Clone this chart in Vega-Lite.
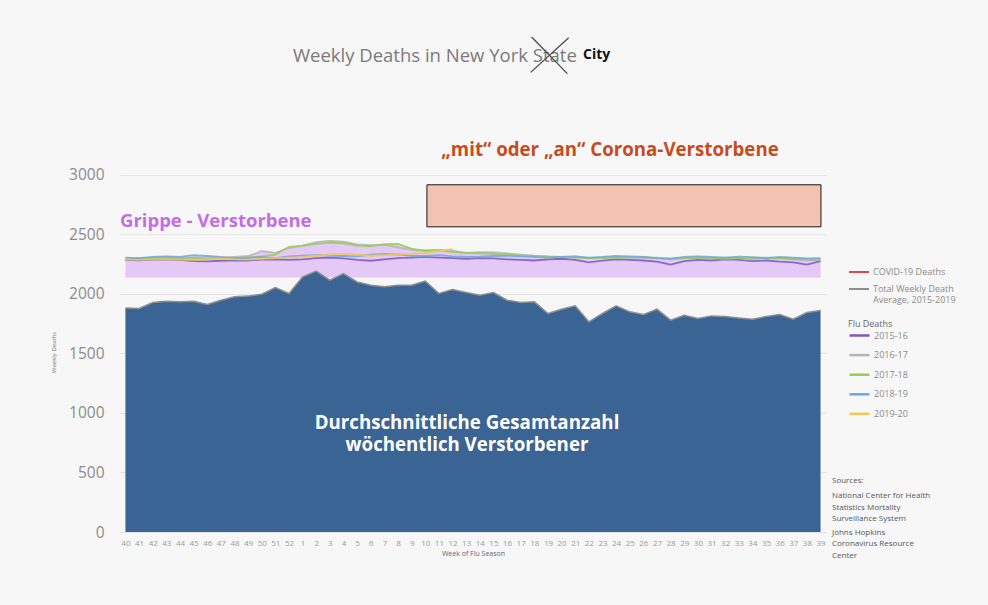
{
  "$schema": "https://vega.github.io/schema/vega-lite/v6.json",
  "width": 706,
  "height": 512,
  "autosize": {"type": "none"},
  "padding": {"left": 120, "top": 20, "right": 162, "bottom": 73},
  "background": "#f7f7f7",
  "config": {"font": "Open Sans", "view": {"stroke": null}, "axisX": {"labelOverlap": false}},
  "data": {"values": [
    {"i":0,"week":40,"total":1882,"2015-16":2285,"2016-17":2300,"2017-18":2290,"2018-19":2305,"2019-20":2290},
    {"i":1,"week":41,"total":1877,"2015-16":2282,"2016-17":2298,"2017-18":2295,"2018-19":2300,"2019-20":2285},
    {"i":2,"week":42,"total":1927,"2015-16":2288,"2016-17":2305,"2017-18":2300,"2018-19":2310,"2019-20":2290},
    {"i":3,"week":43,"total":1938,"2015-16":2290,"2016-17":2310,"2017-18":2298,"2018-19":2315,"2019-20":2292},
    {"i":4,"week":44,"total":1933,"2015-16":2285,"2016-17":2300,"2017-18":2305,"2018-19":2310,"2019-20":2288},
    {"i":5,"week":45,"total":1938,"2015-16":2275,"2016-17":2305,"2017-18":2300,"2018-19":2325,"2019-20":2285},
    {"i":6,"week":46,"total":1910,"2015-16":2272,"2016-17":2298,"2017-18":2295,"2018-19":2318,"2019-20":2290},
    {"i":7,"week":47,"total":1947,"2015-16":2278,"2016-17":2302,"2017-18":2300,"2018-19":2310,"2019-20":2295},
    {"i":8,"week":48,"total":1975,"2015-16":2282,"2016-17":2310,"2017-18":2305,"2018-19":2300,"2019-20":2290},
    {"i":9,"week":49,"total":1981,"2015-16":2280,"2016-17":2318,"2017-18":2300,"2018-19":2305,"2019-20":2288},
    {"i":10,"week":50,"total":1997,"2015-16":2288,"2016-17":2360,"2017-18":2315,"2018-19":2310,"2019-20":2295},
    {"i":11,"week":51,"total":2053,"2015-16":2290,"2016-17":2345,"2017-18":2330,"2018-19":2300,"2019-20":2300},
    {"i":12,"week":52,"total":2003,"2015-16":2285,"2016-17":2385,"2017-18":2395,"2018-19":2315,"2019-20":2305},
    {"i":13,"week":1,"total":2143,"2015-16":2290,"2016-17":2405,"2017-18":2405,"2018-19":2320,"2019-20":2310},
    {"i":14,"week":2,"total":2191,"2015-16":2300,"2016-17":2435,"2017-18":2420,"2018-19":2325,"2019-20":2320},
    {"i":15,"week":3,"total":2115,"2015-16":2305,"2016-17":2445,"2017-18":2430,"2018-19":2320,"2019-20":2330},
    {"i":16,"week":4,"total":2171,"2015-16":2298,"2016-17":2438,"2017-18":2425,"2018-19":2318,"2019-20":2335},
    {"i":17,"week":5,"total":2100,"2015-16":2285,"2016-17":2415,"2017-18":2405,"2018-19":2315,"2019-20":2330},
    {"i":18,"week":6,"total":2073,"2015-16":2278,"2016-17":2410,"2017-18":2400,"2018-19":2330,"2019-20":2320},
    {"i":19,"week":7,"total":2059,"2015-16":2290,"2016-17":2412,"2017-18":2418,"2018-19":2335,"2019-20":2325},
    {"i":20,"week":8,"total":2073,"2015-16":2300,"2016-17":2390,"2017-18":2420,"2018-19":2330,"2019-20":2330},
    {"i":21,"week":9,"total":2073,"2015-16":2305,"2016-17":2370,"2017-18":2380,"2018-19":2320,"2019-20":2335},
    {"i":22,"week":10,"total":2107,"2015-16":2310,"2016-17":2368,"2017-18":2360,"2018-19":2318,"2019-20":2345},
    {"i":23,"week":11,"total":2003,"2015-16":2305,"2016-17":2370,"2017-18":2365,"2018-19":2325,"2019-20":2360},
    {"i":24,"week":12,"total":2036,"2015-16":2300,"2016-17":2360,"2017-18":2350,"2018-19":2315,"2019-20":2375},
    {"i":25,"week":13,"total":2011,"2015-16":2295,"2016-17":2345,"2017-18":2345,"2018-19":2310,"2019-20":null},
    {"i":26,"week":14,"total":1989,"2015-16":2300,"2016-17":2350,"2017-18":2340,"2018-19":2312,"2019-20":null},
    {"i":27,"week":15,"total":2011,"2015-16":2298,"2016-17":2350,"2017-18":2335,"2018-19":2318,"2019-20":null},
    {"i":28,"week":16,"total":1947,"2015-16":2290,"2016-17":2340,"2017-18":2330,"2018-19":2320,"2019-20":null},
    {"i":29,"week":17,"total":1927,"2015-16":2285,"2016-17":2330,"2017-18":2320,"2018-19":2315,"2019-20":null},
    {"i":30,"week":18,"total":1933,"2015-16":2280,"2016-17":2320,"2017-18":2318,"2018-19":2310,"2019-20":null},
    {"i":31,"week":19,"total":1835,"2015-16":2290,"2016-17":2315,"2017-18":2312,"2018-19":2305,"2019-20":null},
    {"i":32,"week":20,"total":1871,"2015-16":2295,"2016-17":2310,"2017-18":2310,"2018-19":2310,"2019-20":null},
    {"i":33,"week":21,"total":1899,"2015-16":2285,"2016-17":2312,"2017-18":2305,"2018-19":2315,"2019-20":null},
    {"i":34,"week":22,"total":1765,"2015-16":2265,"2016-17":2300,"2017-18":2300,"2018-19":2305,"2019-20":null},
    {"i":35,"week":23,"total":1835,"2015-16":2280,"2016-17":2305,"2017-18":2305,"2018-19":2310,"2019-20":null},
    {"i":36,"week":24,"total":1899,"2015-16":2290,"2016-17":2310,"2017-18":2300,"2018-19":2318,"2019-20":null},
    {"i":37,"week":25,"total":1849,"2015-16":2285,"2016-17":2308,"2017-18":2305,"2018-19":2315,"2019-20":null},
    {"i":38,"week":26,"total":1826,"2015-16":2280,"2016-17":2300,"2017-18":2310,"2018-19":2310,"2019-20":null},
    {"i":39,"week":27,"total":1871,"2015-16":2270,"2016-17":2305,"2017-18":2300,"2018-19":2300,"2019-20":null},
    {"i":40,"week":28,"total":1779,"2015-16":2245,"2016-17":2290,"2017-18":2295,"2018-19":2295,"2019-20":null},
    {"i":41,"week":29,"total":1821,"2015-16":2275,"2016-17":2300,"2017-18":2300,"2018-19":2310,"2019-20":null},
    {"i":42,"week":30,"total":1793,"2015-16":2285,"2016-17":2305,"2017-18":2305,"2018-19":2315,"2019-20":null},
    {"i":43,"week":31,"total":1815,"2015-16":2280,"2016-17":2300,"2017-18":2300,"2018-19":2310,"2019-20":null},
    {"i":44,"week":32,"total":1810,"2015-16":2290,"2016-17":2305,"2017-18":2295,"2018-19":2305,"2019-20":null},
    {"i":45,"week":33,"total":1798,"2015-16":2285,"2016-17":2300,"2017-18":2298,"2018-19":2312,"2019-20":null},
    {"i":46,"week":34,"total":1787,"2015-16":2275,"2016-17":2295,"2017-18":2300,"2018-19":2308,"2019-20":null},
    {"i":47,"week":35,"total":1810,"2015-16":2280,"2016-17":2300,"2017-18":2305,"2018-19":2300,"2019-20":null},
    {"i":48,"week":36,"total":1826,"2015-16":2270,"2016-17":2298,"2017-18":2300,"2018-19":2310,"2019-20":null},
    {"i":49,"week":37,"total":1787,"2015-16":2265,"2016-17":2290,"2017-18":2295,"2018-19":2305,"2019-20":null},
    {"i":50,"week":38,"total":1843,"2015-16":2245,"2016-17":2280,"2017-18":2290,"2018-19":2298,"2019-20":null},
    {"i":51,"week":39,"total":1860,"2015-16":2275,"2016-17":2290,"2017-18":2285,"2018-19":2300,"2019-20":null}
  ]},
  "layer": [
    {
      "transform": [
        {"fold": ["2015-16","2016-17","2017-18","2018-19","2019-20"], "as": ["season","deaths"]},
        {"aggregate": [{"op": "max", "field": "deaths", "as": "top"}], "groupby": ["i"]}
      ],
      "mark": {"type": "area", "color": "#E4C8F6"},
      "encoding": {
        "x": {"field": "i", "type": "quantitative",
          "scale": {"domain": [-0.4, 51.4], "nice": false, "zero": false},
          "axis": {"title": "Week of Flu Season", "values": [0,1,2,3,4,5,6,7,8,9,10,11,12,13,14,15,16,17,18,19,20,21,22,23,24,25,26,27,28,29,30,31,32,33,34,35,36,37,38,39,40,41,42,43,44,45,46,47,48,49,50,51],
            "tickCount": 200,
            "labelExpr": "datum.value < 13 ? datum.value + 40 : datum.value - 12",
            "labelFontSize": 8, "labelColor": "#999999", "labelPadding": 7, "labelFlush": false, "labelOverlap": false, "labelSeparation": 0,
            "ticks": false, "domain": false, "grid": false,
            "titleFontSize": 7, "titleFontWeight": "normal", "titleColor": "#666666", "titlePadding": 2}},
        "y": {"field": "top", "type": "quantitative",
          "scale": {"domain": [0, 4300], "nice": false},
          "axis": {"title": "Weekly Deaths", "values": [0,500,1000,1500,2000,2500,3000], "format": "d",
            "labelFontSize": 15.5, "labelColor": "#8c8c8c", "labelPadding": 16,
            "ticks": false, "domain": false, "grid": true, "gridColor": "#e4e4e4", "gridWidth": 1,
            "titleFontSize": 6, "titleFontWeight": "normal", "titleColor": "#777777", "titlePadding": 12, "titleY": 332}},
        "y2": {"datum": 2137}
      }
    },
    {
      "transform": [
        {"fold": ["2015-16","2016-17","2017-18","2018-19","2019-20"], "as": ["season","deaths"]}
      ],
      "mark": {"type": "line", "strokeWidth": 1.8, "opacity": 0.85},
      "encoding": {
        "x": {"field": "i", "type": "quantitative"},
        "y": {"field": "deaths", "type": "quantitative"},
        "color": {"field": "season", "type": "nominal",
          "scale": {"domain": ["2015-16","2016-17","2017-18","2018-19","2019-20"], "range": ["#7E57C2","#B5B5B5","#92D050","#6FA8DC","#F2C94C"]},
          "legend": {"orient": "none", "legendX": 728, "legendY": 300, "title": "Flu Deaths", "titleFontSize": 9, "titleFontWeight": "normal", "titleColor": "#666666", "titlePadding": -5,
            "symbolType": "stroke", "symbolSize": 400, "symbolStrokeWidth": 2.5, "symbolOpacity": 1,
            "labelFontSize": 9, "labelColor": "#8a8a8a", "labelOffset": 3, "padding": 0, "rowPadding": 2.6}}
      }
    },
    {
      "mark": {"type": "area", "color": "#3A6494"},
      "encoding": {
        "x": {"field": "i", "type": "quantitative"},
        "y": {"field": "total", "type": "quantitative"}
      }
    },
    {
      "mark": {"type": "line", "strokeWidth": 1.5},
      "encoding": {
        "x": {"field": "i", "type": "quantitative"},
        "y": {"field": "total", "type": "quantitative"},
        "stroke": {"datum": "Total Weekly Death Average,  2015-2019",
          "scale": {"domain": ["COVID-19 Deaths", "Total Weekly Death Average,  2015-2019"], "range": ["#E0474C", "#8f8f8f"]},
          "legend": {"orient": "none", "legendX": 728, "legendY": 241, "title": null,
            "symbolType": "stroke", "symbolSize": 400, "symbolStrokeWidth": 2,
            "labelFontSize": 9, "labelColor": "#8a8a8a", "labelOffset": 3, "padding": 0, "rowPadding": 1,
            "labelExpr": "datum.label == 'COVID-19 Deaths' ? datum.label : ['Total Weekly Death', 'Average,  2015-2019']"}}
      }
    },
    {
      "data": {"values": [{}]},
      "mark": {"type": "rect", "fill": "#F2C3B1", "stroke": "#1a1a1a", "strokeWidth": 1},
      "encoding": {
        "x": {"datum": 22.12}, "x2": {"datum": 51.03},
        "y": {"datum": 2916}, "y2": {"datum": 2563}
      }
    },
    {
      "data": {"values": [{}]},
      "mark": {"type": "text", "fontSize": 18.7, "fontWeight": "bold", "color": "#C84B1E", "align": "center", "baseline": "middle"},
      "encoding": {
        "x": {"datum": 35.55}, "y": {"datum": 3210},
        "text": {"value": "„mit“ oder „an“ Corona-Verstorbene"}
      }
    },
    {
      "data": {"values": [{}]},
      "mark": {"type": "text", "fontSize": 18.5, "fontWeight": "bold", "color": "#C46CE6", "align": "left", "baseline": "middle"},
      "encoding": {
        "x": {"datum": -0.4}, "y": {"datum": 2613},
        "text": {"value": "Grippe - Verstorbene"}
      }
    },
    {
      "data": {"values": [{}]},
      "mark": {"type": "text", "fontSize": 18.7, "fontWeight": "bold", "color": "#ffffff", "align": "center", "baseline": "top", "lineHeight": 22},
      "encoding": {
        "x": {"datum": 25.06}, "y": {"datum": 995},
        "text": {"value": ["Durchschnittliche Gesamtanzahl", "wöchentlich Verstorbener"]}
      }
    },
    {
      "data": {"values": [{}]},
      "mark": {"type": "text", "fontSize": 18.5, "color": "#7a7a7a", "align": "left", "baseline": "middle"},
      "encoding": {
        "x": {"datum": 12.29}, "y": {"datum": 4000},
        "text": {"value": "Weekly Deaths in New York State"}
      }
    },
    {
      "data": {"values": [{}]},
      "mark": {"type": "text", "fontSize": 14, "fontWeight": "bold", "color": "#111111", "align": "left", "baseline": "middle"},
      "encoding": {
        "x": {"datum": 33.57}, "y": {"datum": 4010},
        "text": {"value": "City"}
      }
    },
    {
      "data": {"values": [{}]},
      "mark": {"type": "rule", "color": "#444444", "strokeWidth": 1.2},
      "encoding": {
        "x": {"datum": 29.8}, "x2": {"datum": 32.42},
        "y": {"datum": 4157}, "y2": {"datum": 3849}
      }
    },
    {
      "data": {"values": [{}]},
      "mark": {"type": "rule", "color": "#444444", "strokeWidth": 1.2},
      "encoding": {
        "x": {"datum": 29.73}, "x2": {"datum": 32.52},
        "y": {"datum": 3860}, "y2": {"datum": 4151}
      }
    },
    {
      "data": {"values": [{}]},
      "mark": {"type": "text", "fontSize": 8, "color": "#555555", "align": "left", "baseline": "top"},
      "encoding": {
        "x": {"datum": 51.84}, "y": {"datum": 458},
        "text": {"value": "Sources:"}
      }
    },
    {
      "data": {"values": [{}]},
      "mark": {"type": "text", "fontSize": 8, "color": "#555555", "align": "left", "baseline": "top", "lineHeight": 11.2},
      "encoding": {
        "x": {"datum": 51.84}, "y": {"datum": 332},
        "text": {"value": ["National Center for Health", "Statistics Mortality", "Surveillance System"]}
      }
    },
    {
      "data": {"values": [{}]},
      "mark": {"type": "text", "fontSize": 8, "color": "#555555", "align": "left", "baseline": "top", "lineHeight": 11.5},
      "encoding": {
        "x": {"datum": 51.84}, "y": {"datum": 29},
        "text": {"value": ["Johns Hopkins", "Coronavirus Resource", "Center"]}
      }
    }
  ]
}
